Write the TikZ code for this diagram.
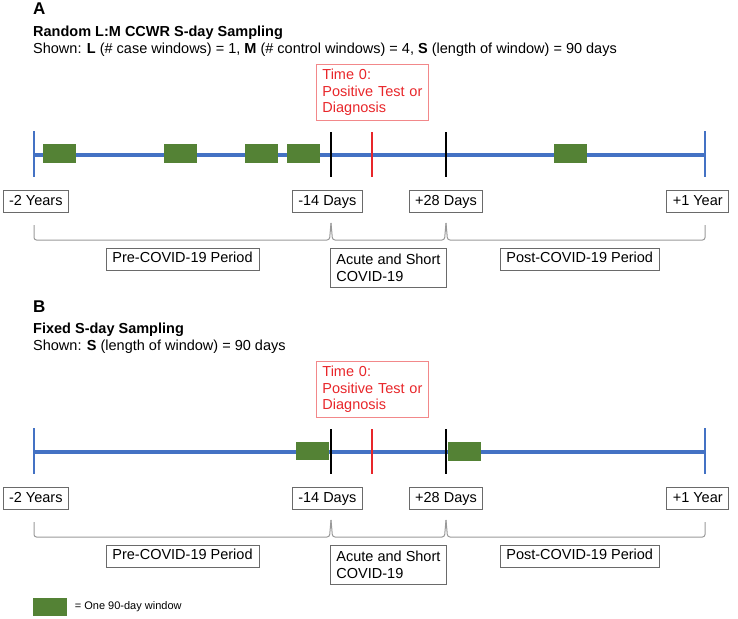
\documentclass[tikz,border=0pt]{standalone}
\usepackage{fontspec}
\setmainfont{Liberation Sans}
\usetikzlibrary{positioning}
\definecolor{timeblue}{HTML}{4472C4}
\definecolor{wingreen}{HTML}{548235}
\definecolor{zerored}{HTML}{E8262A}
\definecolor{framegray}{HTML}{6A6A6A}
\definecolor{bracegray}{HTML}{999999}

\begin{document}
\begin{tikzpicture}[
        x=1pt, y=-1pt,
        every node/.style={font=\fontsize{14.5}{16.5}\selectfont},
        head/.style={anchor=base west, inner sep=0pt},
        title/.style={head, font=\fontsize{14.5}{16.5}\selectfont\bfseries},
        stamp/.style={draw=framegray, line width=0.9pt, inner xsep=6pt, inner ysep=4pt, text height=10.5pt, text depth=3.5pt},
        period/.style={draw=framegray, line width=0.9pt, inner xsep=6pt, inner ysep=6pt, align=left},
        window/.style={fill=wingreen, minimum width=33pt, minimum height=18.5pt, inner sep=0pt},
        zerobox/.style={draw=zerored!55, line width=0.9pt, text=zerored, align=left, text width=100pt, inner xsep=6pt, inner ysep=4.5pt},
        bluetick/.style={timeblue, line width=1.4pt},
        cut/.style={line width=1.5pt},
        brace/.style={bracegray, line width=1pt, rounded corners=2.5pt}
    ]

    \useasboundingbox (0,0) rectangle (738,618);

    % Draw headers %
    \node[head, font=\fontsize{17}{20}\selectfont\bfseries] (A) at (33,15) {A};
    \node[title] (A-title) at (33,36.7) {Random L:M CCWR S-day Sampling};
    \node[head] (A-shown) at (33,53.4) {Shown: \textbf{L} (\# case windows) = 1, \textbf{M} (\# control windows) = 4, \textbf{S} (length of window) = 90 days};
    \node[head, font=\fontsize{17}{20}\selectfont\bfseries] (B) at (33,312) {B};
    \node[title] (B-title) at (33,333.7) {Fixed S-day Sampling};
    \node[head] (B-shown) at (33,350.4) {Shown: \textbf{S} (length of window) = 90 days};

    % Draw timelines %
    \foreach \p/\dy in {A/0,B/297}{
        \begin{scope}[shift={(0,\dy)}]
            \draw[timeblue, line width=3.4pt] (34,155) -- (705,155);
            \draw[bluetick] (34,131) -- (34,177);
            \draw[bluetick] (705,131) -- (705,177);
            \draw[cut] (331,132) -- (331,177);
            \draw[cut] (446,132) -- (446,177);
            \draw[cut, zerored] (372,132) -- (372,177);

            \node[zerobox, anchor=north west] (\p-zero) at (316,64.3) {Time 0:\\Positive Test or\\Diagnosis};

            \node[stamp] (\p-start) at (35.8,201.7) {-2 Years};
            \node[stamp] (\p-before) at (327.3,201.7) {-14 Days};
            \node[stamp] (\p-after) at (446,201.7) {+28 Days};
            \node[stamp] (\p-end) at (697.7,201.7) {+1 Year};

            % Draw braces %
            \draw[brace] (34,225) -- (34,240) -- (329.5,240) -- (331,223);
            \draw[brace] (331,223) -- (332.5,240) -- (444.5,240) -- (446,223);
            \draw[brace] (446,223) -- (447.5,240) -- (705,240) -- (705,225);

            \node[stamp, minimum width=153pt] (\p-pre) at (182.5,259) {Pre-COVID-19 Period};
            \node[period, anchor=north west] (\p-acute) at (330,247.6) {Acute and Short\\COVID-19};
            \node[stamp, minimum width=159pt] (\p-post) at (579.7,259) {Post-COVID-19 Period};
        \end{scope}
    }

    % Draw windows %
    \foreach \x [count=\i] in {59.7,180.7,261.3,303.8,570.5}
        \node[window] (A-w\i) at (\x,153.5) {};
    \node[window] (B-w1) at (312,451) {};
    \node[window] (B-w2) at (464.5,451.5) {};

    % Legend %
    \node[window, minimum width=34pt, minimum height=18pt] (key) at (50,607) {};
    \node[right=7.5pt of key, inner sep=0pt, font=\fontsize{11}{13}\selectfont] (key-text) {= One 90-day window};
\end{tikzpicture}
\end{document}
